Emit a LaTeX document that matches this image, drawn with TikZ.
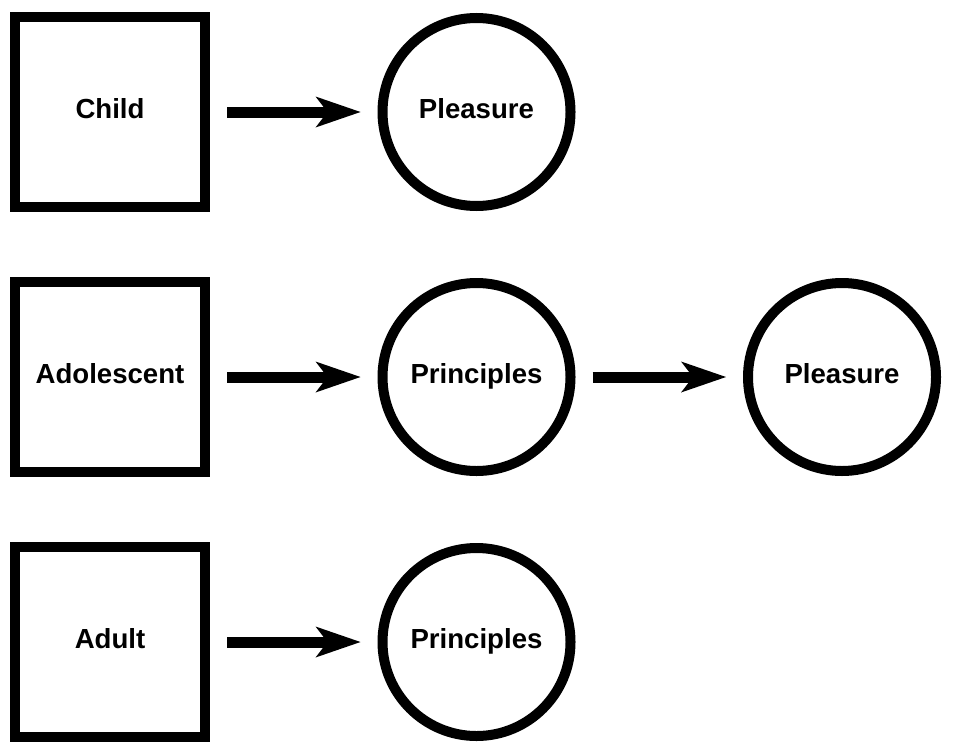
\documentclass[tikz,border=0pt]{standalone}
\usepackage{fontspec}
\setmainfont{Liberation Sans}
\usetikzlibrary{positioning,arrows.meta}
\begin{document}
\begin{tikzpicture}[node distance=1.3cm and 3.35cm] % рамка
\tikzstyle{mybox} = [draw, line width=0.2cm, minimum size=3.8cm, inner sep=0pt, text height=0.72em, text depth=0pt, font=\fontsize{15.7}{18}\selectfont\bfseries] % box style
\tikzstyle{mycircle} = [draw, circle, line width=0.2cm, minimum size=3.76cm, inner sep=0pt, text height=0.72em, text depth=0pt, font=\fontsize{15.7}{18}\selectfont\bfseries] % circle style
\tikzstyle{myarrow} = [line width=0.22cm, shorten <=0.34cm, shorten >=0.34cm, -{Stealth[length=0.9cm, width=0.62cm, inset=0.24cm, line width=0pt]}] % стрелка
\useasboundingbox (0,0) rectangle (19.18,-15.1);
\node[mybox] (child) at (2.2,-2.24) {Child};
\node[mybox, below=of child] (adolescent) {Adolescent};
\node[mybox, below=of adolescent] (adult) {Adult};
\node[mycircle, right=of child] (pleasureA) {Pleasure};
\node[mycircle, right=of adolescent] (principlesA) {Principles};
\node[mycircle, right=of principlesA] (pleasureB) {Pleasure};
\node[mycircle, right=of adult] (principlesB) {Principles};
\draw[myarrow] (child) -- (pleasureA);
\draw[myarrow] (adolescent) -- (principlesA);
\draw[myarrow] (principlesA) -- (pleasureB);
\draw[myarrow] (adult) -- (principlesB);
\end{tikzpicture}
\end{document}
